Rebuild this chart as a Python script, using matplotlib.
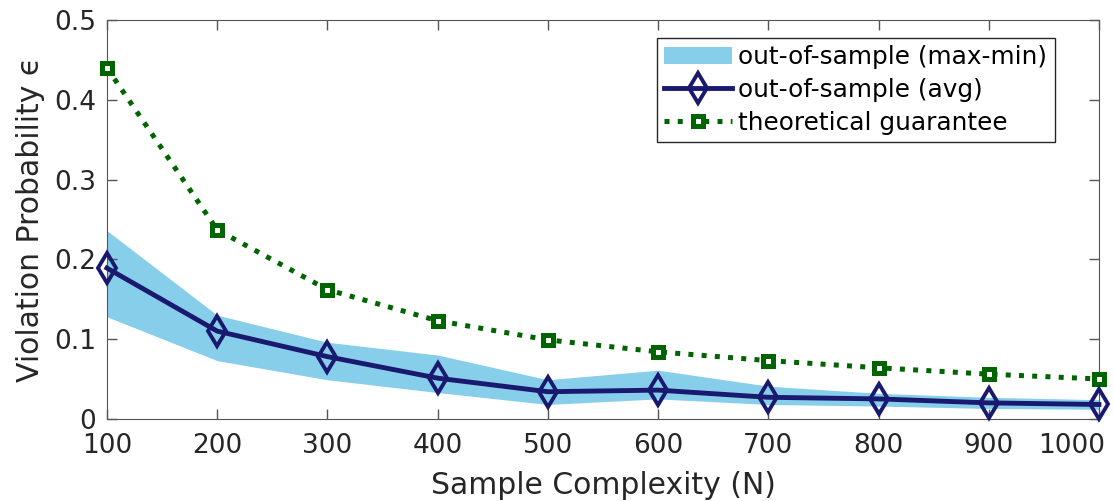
import numpy as np
import matplotlib.pyplot as plt
import matplotlib.transforms as mtransforms

sample_sizes = [100, 200, 300, 400, 500, 600, 700, 800, 900, 1000]
avg_violation = [0.189, 0.110, 0.078, 0.051, 0.034, 0.036, 0.027, 0.025, 0.020, 0.018]
max_violation = [0.236, 0.130, 0.096, 0.080, 0.049, 0.061, 0.041, 0.032, 0.027, 0.024]
min_violation = [0.128, 0.073, 0.049, 0.033, 0.018, 0.025, 0.018, 0.016, 0.013, 0.012]
theory_bound = [0.440, 0.237, 0.162, 0.123, 0.099, 0.084, 0.073, 0.064, 0.056, 0.050]

plt.rcParams['font.family'] = 'DejaVu Sans'
fig = plt.figure(figsize=(11.14, 5.01), dpi=100)
ax = fig.add_axes([0.096, 0.164, 0.8905, 0.796])

ax.fill_between(sample_sizes, min_violation, max_violation, color='#87CEEB',
                linewidth=0, label='out-of-sample (max-min)')
ax.plot(sample_sizes, avg_violation, '-d', color='#191970', linewidth=3.5,
        markersize=15, markerfacecolor='none', markeredgewidth=2.8,
        label='out-of-sample (avg)', clip_on=False, zorder=4)
ax.plot(sample_sizes, theory_bound, ':s', color='#006400', linewidth=3.6,
        markersize=6.5, markerfacecolor='white', markeredgewidth=3.6,
        label='theoretical guarantee', clip_on=False, zorder=3)

ax.set_xlim(100, 1000)
ax.set_ylim(0, 0.5)
ax.set_xticks(sample_sizes)
ax.set_yticks([0, 0.1, 0.2, 0.3, 0.4, 0.5])
ax.set_yticklabels(['0', '0.1', '0.2', '0.3', '0.4', '0.5'])
ax.tick_params(direction='in', top=True, right=True, labelsize=19,
               length=7, width=1, color='#555555', labelcolor='#262626')
ax.tick_params(axis='x', pad=10)
ax.tick_params(axis='y', pad=8)
for sp in ax.spines.values():
    sp.set_color('#555555')
ax.set_xlabel('Sample Complexity (N)', fontsize=21.5, color='#262626', labelpad=9)
ax.set_ylabel('Violation Probability ϵ', fontsize=21.5, color='#262626', labelpad=6)

# last x label is pushed inward so it stays inside the figure
last = ax.get_xticklabels()[-1]
last.set_transform(last.get_transform() +
                   mtransforms.ScaledTranslation(-27 / 100, 0, fig.dpi_scale_trans))

leg = ax.legend(loc='upper right', bbox_to_anchor=(0.9556, 0.955),
                fontsize=17.8, fancybox=False, edgecolor='#262626',
                handlelength=2.75, borderpad=0.3, labelspacing=0.35,
                handletextpad=0.25, borderaxespad=0, framealpha=1)
leg.get_frame().set_linewidth(1)

fig.savefig('out.png', dpi=100)
